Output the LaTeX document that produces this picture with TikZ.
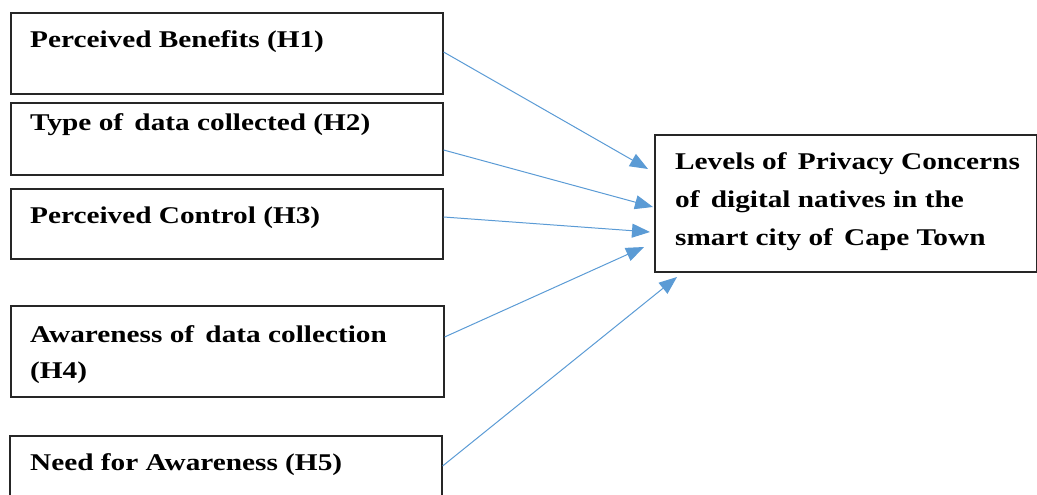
\documentclass[tikz,border=0pt]{standalone}
\usepackage{fontspec}
\setmainfont[FakeStretch=1.22]{Liberation Serif}
\usetikzlibrary{arrows.meta}
\definecolor{arrowblue}{HTML}{5B9BD5}
\definecolor{boxline}{HTML}{262626}
\begin{document}
\begin{tikzpicture}[x=1pt,y=-1pt,
  box/.style={draw=boxline,line width=1.6pt,rectangle,inner sep=0pt,anchor=north west},
  lbl/.style={anchor=base west,inner sep=0pt,font=\fontsize{24}{30}\selectfont\bfseries},
  link/.style={draw=arrowblue,line width=1pt,-{Triangle[length=18pt,width=14pt]}}]
\useasboundingbox (0,0) rectangle (1037,495);
% boxes
\node[box,minimum width=432pt,minimum height=81pt] (b1) at (10,12) {};
\node[box,minimum width=432pt,minimum height=72pt] (b2) at (10,102) {};
\node[box,minimum width=432pt,minimum height=70pt] (b3) at (10,188) {};
\node[box,minimum width=433pt,minimum height=91pt] (b4) at (10,305) {};
\node[box,minimum width=432pt,minimum height=80pt] (b5) at (9,435) {};
\node[box,minimum width=382pt,minimum height=137pt] (t) at (654,134) {};
% labels
\node[lbl] (l1) at (30,48) {Perceived Benefits (H1)};
\node[lbl] (l2) at (30,130) {Type of\, data collected (H2)};
\node[lbl] (l3) at (30,223) {Perceived Control (H3)};
\node[lbl] (l4a) at (30,342) {Awareness of\, data collection};
\node[lbl] (l4b) at (30,378) {(H4)};
\node[lbl] (l5) at (30,470) {Need for Awareness (H5)};
\node[lbl] (r1) at (675,169) {Levels of\, Privacy Concerns};
\node[lbl] (r2) at (675,207) {of\, digital natives in the};
\node[lbl] (r3) at (675,245) {smart city of\, Cape Town};
% connector ends
\coordinate (s1) at (b1.east |- 0,52);
\coordinate (s2) at (b2.east |- 0,150);
\coordinate (s3) at (b3.east |- 0,217);
\coordinate (s4) at (b4.east |- 0,337);
\coordinate (s5) at (b5.east |- 0,466);
\coordinate (e1) at (648,169);
\coordinate (e2) at (653,207);
\coordinate (e3) at (650,232);
\coordinate (e4) at (644,247);
\coordinate (e5) at (677,277);
\draw[link] (s1) -- (e1);
\draw[link] (s2) -- (e2);
\draw[link] (s3) -- (e3);
\draw[link] (s4) -- (e4);
\draw[link] (s5) -- (e5);
\end{tikzpicture}
\end{document}
